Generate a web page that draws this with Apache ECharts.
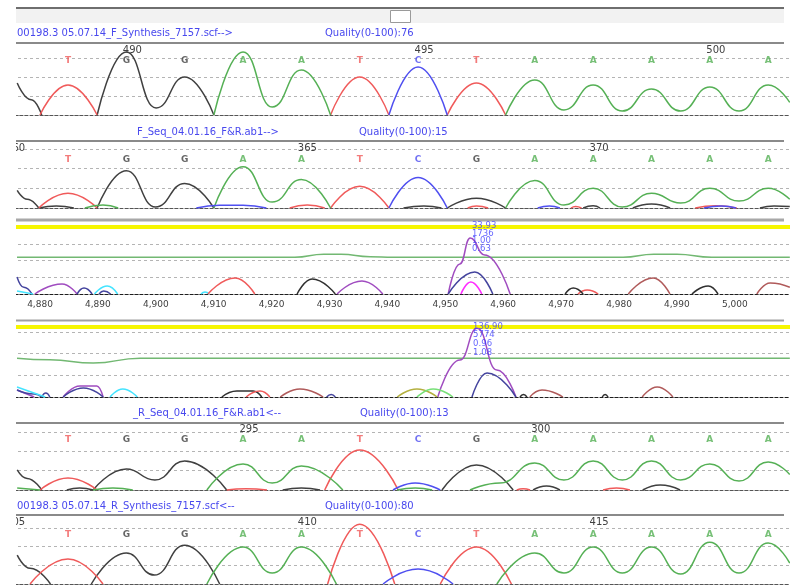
<!DOCTYPE html>
<html>
<head>
<meta charset="utf-8">
<script src="https://cdn.jsdelivr.net/npm/echarts@6/dist/echarts.min.js"></script>
<style>
  html, body { margin: 0; padding: 0; background: #fff; }
  #chart { width: 790px; height: 586px; }
</style>
</head>
<body>
<div id="chart"></div>
<script>
// ---- sequence panel 1 (F_Synthesis scf) ----
const seq1 = ['T','G','G','A','A','T','C','T','A','A','A','A','A'];
const pos1Start = 489;
const ticks1 = [490, 495, 500];
const p1G = [
  [[488.13, 842], [488.37, 400], [488.55, 0]],
  [[489.5, 0], [490, 1657], [490.51, 184], [491, 1000], [491.5, 0]]
];
const p1T = [
  [[488.52, 0], [489, 789], [489.5, 0]],
  [[493.5, 0], [494, 1000], [494.5, 0]],
  [[495.5, 0], [496, 842], [496.5, 0]]
];
const p1A = [
  [[491.5, 0], [492, 1657], [492.5, 210], [493, 1184], [493.5, 0]],
  [[496.5, 0], [497, 921], [497.5, 132], [498, 789], [498.5, 105], [499, 684], [499.5, 105], [500, 737], [500.5, 105], [501, 789], [501.37, 330]]
];
const p1C = [[[494.5, 0], [495, 1263], [495.5, 0]]];

// ---- sequence panel 2 (F_Seq ab1) ----
const seq2 = ['T','G','G','A','A','T','C','G','A','A','A','A','A'];
const pos2Start = 361;
const ticks2 = [360, 365, 370];
const p2G = [
  [[360.13, 450], [360.3, 220], [360.5, 0]],
  [[360.5, 0], [360.8, 50], [361.1, 0]],
  [[361.5, 0], [362, 950], [362.5, 25], [363, 625], [363.5, 0]],
  [[366.75, 0], [367.1, 50], [367.4, 0]],
  [[367.5, 0], [368, 250], [368.5, 0]],
  [[369.83, 0], [370, 60], [370.12, 0]],
  [[370.68, 0], [371, 100], [371.32, 0]],
  [[372.86, 0], [373.1, 50], [373.37, 40]]
];
const p2T = [
  [[360.5, 0], [361, 375], [361.5, 0]],
  [[364.8, 0], [365.1, 75], [365.4, 0]],
  [[365.5, 0], [366, 550], [366.5, 0]],
  [[367.85, 0], [368, 50], [368.2, 0]],
  [[369.62, 0], [369.7, 40], [369.8, 0]],
  [[371.75, 0], [372.1, 60], [372.46, 0]]
];
const p2A = [
  [[361.29, 0], [361.6, 75], [361.86, 0]],
  [[363.5, 0], [364, 1050], [364.5, 150], [365, 725], [365.5, 0]],
  [[368.5, 0], [369, 700], [369.5, 75], [370, 500], [370.5, 25], [371, 375], [371.5, 125], [372, 500], [372.5, 175], [373, 500], [373.37, 220]]
];
const p2C = [
  [[363.2, 0], [363.6, 70], [364.0, 70], [364.4, 0]],
  [[366.5, 0], [367, 775], [367.5, 0]],
  [[369.05, 0], [369.25, 50], [369.43, 0]],
  [[371.9, 0], [372.2, 50], [372.45, 0]]
];

// ---- raw trace panels 3 and 4 (scan numbers) ----
const scanTicks = [4880, 4890, 4900, 4910, 4920, 4930, 4940, 4950, 4960, 4970, 4980, 4990, 5000];
const p3Green = [[[4876.03, 1100], [4924.0, 1100], [4929, 1190], [4932, 1190], [4937, 1120], [4941, 1100],
                  [4980.7, 1100], [4986, 1190], [4990, 1190], [4996, 1100], [5009.5, 1100]]];
const p3Purple = [
  [[4879.1, 0], [4883.8, 300], [4886.4, 0]],
  [[4931.3, 0], [4935.6, 390], [4939.2, 0]],
  [[4950.5, 0], [4952.5, 900], [4954.3, 1680], [4956.8, 1170], [4961.2, 0]]
];
const p3Navy = [
  [[4876.03, 510], [4877.2, 200], [4878.6, 0]],
  [[4886.4, 0], [4887.6, 180], [4889.0, 0]],
  [[4890.2, 0], [4891.0, 90], [4892.2, 0]],
  [[4950.5, 0], [4955.1, 660], [4958.2, 0]]
];
const p3Magenta = [[[4952.7, 0], [4954.4, 360], [4956.3, 0]]];
const p3Cyan = [
  [[4876.03, 90], [4878.8, 0]],
  [[4889.4, 0], [4891.6, 240], [4893.4, 0]],
  [[4907.8, 0], [4908.5, 60], [4909.2, 0]]
];
const p3Red = [
  [[4909.0, 0], [4913.7, 480], [4917.1, 0]],
  [[4972.9, 0], [4974.5, 120], [4976.4, 0]]
];
const p3Black = [
  [[4924.4, 0], [4927.0, 450], [4931.0, 0]],
  [[4970.7, 0], [4972.1, 180], [4973.8, 0]],
  [[4992.6, 0], [4995.4, 240], [4997.1, 0]]
];
const p3Brown = [
  [[4981.6, 0], [4985.9, 480], [4988.8, 0]],
  [[5003.8, 0], [5006.1, 330], [5009.5, 200]]
];
const peak3Info = ['33.93', '1736', '1.00', '0.63'];
const peak3At = 4954.6;

const p4Green = [[[4876.03, 897], [4881.7, 860], [4889.2, 782], [4897.3, 897], [5009.5, 897]]];
const p4Purple = [
  [[4876.03, 161], [4879, 0]],
  [[4884.0, 0], [4886.9, 253], [4889.8, 253], [4890.9, 0]],
  [[4948.7, 0], [4952.5, 851], [4955.5, 1587], [4958.9, 621], [4962.2, 0]]
];
const p4Navy = [
  [[4876.03, 161], [4879, 70], [4880.3, 0]],
  [[4880.3, 0], [4881.0, 90], [4881.7, 0]],
  [[4884.0, 0], [4887.5, 210], [4890.9, 0]],
  [[4929.5, 0], [4930.3, 60], [4931.0, 0]],
  [[4954.6, 0], [4957.2, 552], [4962.2, 0]]
];
const p4Cyan = [
  [[4876.03, 230], [4880.9, 0]],
  [[4892.1, 0], [4894.3, 184], [4896.8, 0]]
];
const p4Black = [
  [[4911.4, 0], [4914, 138], [4916.8, 138], [4918.3, 0]],
  [[4962.9, 0], [4963.5, 60], [4964.1, 0]],
  [[4977.1, 0], [4977.6, 60], [4978.1, 0]]
];
const p4Red = [[[4915.6, 0], [4918, 138], [4919.7, 0]]];
const p4Brown = [
  [[4921.5, 0], [4924.9, 184], [4928.9, 0]],
  [[4964.6, 0], [4966.7, 161], [4970.3, 0]],
  [[4984.0, 0], [4986.6, 230], [4989.3, 0]]
];
const p4Olive = [[[4941.7, 0], [4945.1, 184], [4948.6, 0]]];
const p4Lime = [[[4945.1, 0], [4947.9, 184], [4951.3, 0]]];
const peak4Info = ['136.90', '5774', '0.96', '1.08'];
const peak4At = 4954.8;

// ---- sequence panel 5 (R_Seq ab1) ----
const seq5 = ['T','G','G','A','A','T','C','G','A','A','A','A','A'];
const pos5Start = 292;
const ticks5 = [295, 300];
const p5G = [
  [[291.13, 518], [291.3, 300], [291.55, 0]],
  [[291.98, 0], [292.2, 52], [292.43, 0]],
  [[292.43, 0], [293, 544], [293.49, 259], [294, 751], [294.72, 0]],
  [[295.68, 0], [296, 52], [296.32, 0]],
  [[298.41, 0], [299, 648], [299.63, 0]],
  [[299.97, 0], [300.2, 104], [300.43, 0]],
  [[301.85, 0], [302.15, 130], [302.49, 0]]
];
const p5T = [
  [[291.52, 0], [292, 311], [292.5, 0]],
  [[294.72, 0], [295.05, 30], [295.41, 0]],
  [[296.4, 0], [297, 1036], [297.66, 0]],
  [[299.69, 0], [299.8, 30], [299.92, 0]],
  [[301.17, 0], [301.4, 50], [301.63, 0]]
];
const p5A = [
  [[291.13, 50], [291.52, 0]],
  [[292.43, 0], [292.77, 50], [293.11, 0]],
  [[294.38, 0], [295, 673], [295.5, 181], [296, 622], [296.71, 0]],
  [[297.64, 0], [297.95, 52], [298.24, 0]],
  [[298.89, 0], [299.4, 181], [300, 699], [300.5, 259], [301, 751], [301.5, 259], [302, 751], [302.5, 259], [303, 673], [303.5, 233], [304, 725], [304.37, 400]]
];
const p5C = [[[297.57, 0], [297.95, 181], [298.38, 0]]];

// ---- sequence panel 6 (R_Synthesis scf) ----
const seq6 = ['T','G','G','A','A','T','C','T','A','A','A','A','A'];
const pos6Start = 406;
const ticks6 = [405, 410, 415];
const p6G = [
  [[405.13, 774], [405.35, 420], [405.7, 0]],
  [[406.4, 0], [407, 828], [407.48, 240], [408, 1041], [408.6, 0]]
];
const p6T = [
  [[405.35, 0], [406, 667], [406.6, 0]],
  [[410.45, 0], [411, 1602], [411.6, 0]],
  [[412.38, 0], [413, 988], [413.6, 0]]
];
const p6A = [
  [[408.38, 0], [409, 988], [409.5, 294], [410, 988], [410.6, 0]],
  [[413.35, 0], [414, 828], [414.5, 294], [415, 988], [415.5, 294], [416, 988], [416.5, 267], [417, 1121], [417.5, 294], [418, 1095], [418.37, 560]]
];
const p6C = [[[411.4, 0], [412, 400], [412.6, 0]]];

const headers = [
  ['00198.3 05.07.14_F_Synthesis_7157.scf-->', 'Quality(0-100):76'],
  ['F_Seq_04.01.16_F&R.ab1-->', 'Quality(0-100):15'],
  ['_R_Seq_04.01.16_F&R.ab1<--', 'Quality(0-100):13'],
  ['00198.3 05.07.14_R_Synthesis_7157.scf<--', 'Quality(0-100):80']
];

// ---------------------------------------------------------------
const baseColor = { A: '#55b055', C: '#4f4ff0', G: '#404040', T: '#f05a5a' };
const FONT = 'DejaVu Sans';

const panels = [
  { top: 58, height: 57, kind: 'seq', min: 487.835, max: 501.374, ticks: ticks1, seq: seq1, start: pos1Start,
    letterY: 1420, numMargin: 8,
    traces: [['G', p1G], ['T', p1T], ['A', p1A], ['C', p1C]] },
  { top: 149, height: 59, kind: 'seq', min: 359.835, max: 373.374, ticks: ticks2, seq: seq2, start: pos2Start,
    letterY: 1232, numMargin: 1,
    traces: [['G', p2G], ['T', p2T], ['A', p2A], ['C', p2C]] },
  { top: 244, height: 50, kind: 'scan', min: 4873.09, max: 5009.53, labels: true, info: peak3Info, infoAt: peak3At,
    infoOffset: [0, -22], infoLine: 7.7,
    traces: [['#72b872', p3Green], ['#a04cc0', p3Purple], ['#44449e', p3Navy], ['#ff2cff', p3Magenta],
             ['#44e4ff', p3Cyan], ['#f05a5a', p3Red], ['#303030', p3Black], ['#b05a5a', p3Brown]] },
  { top: 332, height: 65, kind: 'scan', min: 4873.09, max: 5009.53, labels: false, info: peak4Info, infoAt: peak4At,
    infoOffset: [0, -10], infoLine: 8.7,
    traces: [['#72b872', p4Green], ['#a04cc0', p4Purple], ['#44449e', p4Navy], ['#44e4ff', p4Cyan],
             ['#303030', p4Black], ['#f05a5a', p4Red], ['#b05a5a', p4Brown], ['#b4b040', p4Olive], ['#78e078', p4Lime]] },
  { top: 432, height: 58, kind: 'seq', min: 290.835, max: 304.374, ticks: ticks5, seq: seq5, start: pos5Start,
    letterY: 1295, numMargin: 3,
    traces: [['G', p5G], ['T', p5T], ['A', p5A], ['C', p5C]] },
  { top: 528, height: 56, kind: 'seq', min: 404.835, max: 418.374, ticks: ticks6, seq: seq6, start: pos6Start,
    letterY: 1327, numMargin: 6,
    traces: [['G', p6G], ['T', p6T], ['A', p6A], ['C', p6C]] }
];

const grid = [], xAxis = [], yAxis = [], series = [];

panels.forEach((p, i) => {
  grid.push({ left: 0, right: 0, top: p.top, height: p.height });
  xAxis.push({
    gridIndex: i, type: 'value', min: p.min, max: p.max, position: 'bottom',
    axisLine: { show: true, onZero: false, lineStyle: { type: [3, 2], color: p.kind === 'seq' ? '#555' : '#1e1e1e', width: 1 } },
    axisTick: { show: false }, splitLine: { show: false },
    axisLabel: p.labels ? {
      show: true, customValues: scanTicks, margin: 6, color: '#404040', fontSize: 9, fontFamily: FONT,
      formatter: v => String(v).replace(/\B(?=(\d{3})+(?!\d))/g, ',')
    } : { show: false }
  });
  xAxis.push({
    gridIndex: i, type: 'value', min: p.min, max: p.max, position: 'top',
    axisLine: { show: false }, axisTick: { show: false }, splitLine: { show: false },
    axisLabel: p.kind === 'seq' ? {
      show: true, customValues: p.ticks, margin: p.numMargin, verticalAlign: 'middle',
      color: '#404040', fontSize: 10, fontFamily: FONT, padding: [0, 0, 0, 12]
    } : { show: false }
  });
  yAxis.push({
    gridIndex: i, type: 'value', min: 0, max: 1500, interval: 500,
    axisLine: { show: false }, axisTick: { show: false }, axisLabel: { show: false },
    splitLine: { show: true, lineStyle: { type: [3, 3], color: '#b4b4b4', width: 1 } }
  });

  p.traces.forEach(([c, segs]) => {
    segs.forEach(seg => series.push({
      type: 'line', xAxisIndex: 2 * i, yAxisIndex: i, data: seg,
      smooth: 0.5, smoothMonotone: 'x', symbol: 'none', clip: false, silent: true,
      lineStyle: { color: baseColor[c] || c, width: 1.5 }
    }));
  });

  if (p.kind === 'seq') {
    series.push({
      type: 'scatter', xAxisIndex: 2 * i, yAxisIndex: i, symbolSize: 0, clip: false, silent: true, z: 1,
      data: p.seq.map((b, k) => ({ name: b, value: [p.start + k, p.letterY], label: { color: baseColor[b] } })),
      label: { show: true, position: 'inside', formatter: '{b}', fontSize: 9, fontWeight: 'bold', fontFamily: FONT }
    });
  } else {
    series.push({
      type: 'scatter', xAxisIndex: 2 * i, yAxisIndex: i, symbolSize: 0, clip: false, silent: true, z: 5,
      data: [{ value: [p.infoAt, 1500] }],
      label: {
        show: true, position: 'inside', align: 'left', verticalAlign: 'top', offset: p.infoOffset,
        formatter: p.info.join('\n'), lineHeight: p.infoLine, fontSize: 8.5, fontFamily: FONT, color: '#3c3cff'
      }
    });
  }
});

// window chrome: scroll strip, panel borders, yellow threshold bands, headers
const hline = (y, color, w) => ({ type: 'line', shape: { x1: 16, y1: y, x2: 784, y2: y }, style: { stroke: color, lineWidth: w } });
const txt = (s, x, y) => ({ type: 'text', style: { text: s, x: x, y: y, fill: '#4848ee', font: '10px "' + FONT + '"', verticalAlign: 'middle' } });

const graphic = [
  { type: 'rect', shape: { x: 16, y: 9, width: 768, height: 14 }, style: { fill: '#f2f2f2' } },
  hline(8, '#6e6e6e', 2),
  { type: 'rect', shape: { x: 390.5, y: 10.5, width: 20, height: 12 }, style: { fill: '#fff', stroke: '#9a9a9a', lineWidth: 1 } },
  hline(43, '#8a8a8a', 2),
  hline(141, '#8a8a8a', 2),
  hline(220, '#a8a8a8', 3),
  hline(320.5, '#a0a0a0', 2),
  hline(423, '#8a8a8a', 2),
  hline(515, '#8a8a8a', 2),
  { type: 'rect', shape: { x: 16, y: 225, width: 774, height: 4 }, style: { fill: '#f6f600' } },
  { type: 'rect', shape: { x: 16, y: 325, width: 774, height: 4 }, style: { fill: '#f6f600' } },
  txt(headers[0][0], 17, 33), txt(headers[0][1], 325, 33),
  txt(headers[1][0], 137, 132), txt(headers[1][1], 359, 132),
  txt(headers[2][0], 133, 413), txt(headers[2][1], 360, 413),
  txt(headers[3][0], 17, 506), txt(headers[3][1], 325, 506),
  { type: 'rect', shape: { x: 0, y: 0, width: 16, height: 586 }, style: { fill: '#fff' }, z: 100 }
];

const chart = echarts.init(document.getElementById('chart'));
chart.setOption({
  backgroundColor: '#fff',
  animation: false,
  grid: grid,
  xAxis: xAxis,
  yAxis: yAxis,
  series: series,
  graphic: graphic
});
window.addEventListener('resize', function () { chart.resize(); });
</script>
</body>
</html>
